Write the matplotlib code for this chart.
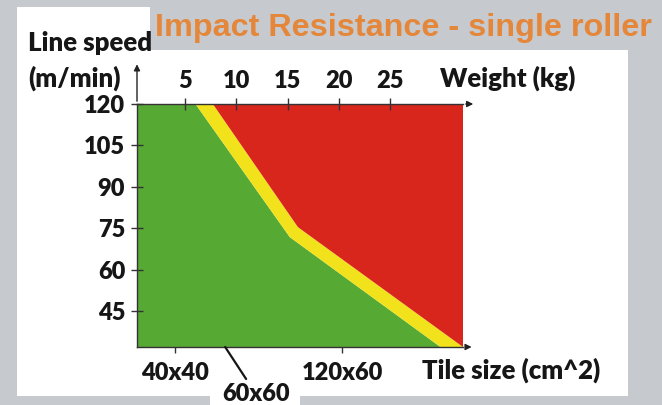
import matplotlib
matplotlib.use('Agg')
from matplotlib import pyplot as plt
from matplotlib.patches import Rectangle

# speed axis (m/min) and weight axis (kg)
speed_ticks = [45, 60, 75, 90, 105, 120]
weight_ticks = [5, 10, 15, 20, 25]
tile_labels = ['40x40', '120x60']
tile_pos = [4.0, 20.3]          # tile size placed on the weight scale
tile_note = '60x60'
tile_note_pos = 8.9

# zone borders (weight, speed)
low_x = [6.0, 15.2, 29.9]
low_y = [120, 71.8, 32]
high_x = [7.7, 16.0, 32.1]
high_y = [120, 75.4, 32]

x_min, x_max = 0.3, 32.1
y_min, y_max = 32, 120

W, H = 662, 405
bg = '#c6c9cd'
txt = '#161616'
green = '#56a933'
yellow = '#f1e21b'
red = '#d8261d'
orange = '#e5873a'

plt.rcParams['font.family'] = ['Lato', 'DejaVu Sans']
plt.rcParams['font.weight'] = 'heavy'

fig = plt.figure(figsize=(W / 100, H / 100), dpi=100, facecolor=bg)


def box(x0, y0, x1, y1):
    # pixel box -> figure fraction rectangle
    fig.patches.append(Rectangle((x0 / W, 1 - y1 / H), (x1 - x0) / W, (y1 - y0) / H,
                                 transform=fig.transFigure, facecolor='white',
                                 edgecolor='none', zorder=-5))


box(17, 7, 150, 51)
box(17, 50, 628, 396)
box(210, 395, 300, 405)

ax = fig.add_axes([137 / W, 1 - 347 / H, 326 / W, 243 / H])
ax.set_zorder(3)
ax.set_xlim(x_min, x_max)
ax.set_ylim(y_min, y_max)
ax.set_facecolor('none')

ax.fill([x_min, x_min] + low_x + [x_min], [y_min, y_max] + low_y + [y_min], color=green, lw=0)
ax.fill(low_x + high_x[::-1], low_y + high_y[::-1], color=yellow, lw=0)
ax.fill(high_x + [x_max, x_max], high_y + [y_min, y_max], color=red, lw=0)

ax.spines['right'].set_visible(False)
for s in ['left', 'top', 'bottom']:
    ax.spines[s].set_color('#333333')
    ax.spines[s].set_linewidth(1.0)

ax.set_yticks(speed_ticks)
ax.set_yticklabels([str(v) for v in speed_ticks], fontsize=17, color=txt)
ax.xaxis.set_ticks_position('top')
ax.set_xticks(weight_ticks)
ax.set_xticklabels([str(v) for v in weight_ticks], fontsize=17, color=txt)
ax.tick_params(axis='both', direction='inout', length=9, width=1, color='#333333', pad=4)

bot = ax.secondary_xaxis('bottom')
bot.set_xticks(tile_pos)
bot.set_xticklabels(tile_labels, fontsize=17, color=txt)
bot.tick_params(direction='inout', length=9, width=1, color='#333333', pad=6)
bot.spines['bottom'].set_visible(False)

ax.annotate(tile_note, xy=(tile_note_pos, y_min), xytext=(11.9, 15.0),
            xycoords='data', textcoords='data', ha='center', va='center',
            fontsize=17, color=txt, annotation_clip=False,
            arrowprops=dict(arrowstyle='-', color=txt, lw=1.6, shrinkA=1, shrinkB=0))

arrow = dict(arrowstyle='-|>', color='#222222', lw=1.0, mutation_scale=9)
ax.annotate('', xy=(0, 1.175), xytext=(0, 1), xycoords='axes fraction', arrowprops=arrow)
ax.annotate('', xy=(1.04, 1), xytext=(1, 1), xycoords='axes fraction', arrowprops=arrow)
ax.annotate('', xy=(1.035, 0), xytext=(1, 0), xycoords='axes fraction', arrowprops=arrow)

fig.text(28 / W, 1 - 43 / H, 'Line speed', fontsize=18.5, color=txt, ha='left', va='center')
fig.text(28 / W, 1 - 78 / H, '(m/min)', fontsize=18.5, color=txt, ha='left', va='center')
fig.text(440 / W, 1 - 78 / H, 'Weight (kg)', fontsize=18.5, color=txt, ha='left', va='center')
fig.text(422 / W, 1 - 370 / H, 'Tile size (cm^2)', fontsize=18.5, color=txt, ha='left', va='center')
fig.text(155 / W, 1 - 28 / H, 'Impact Resistance - single roller', fontsize=23.3,
         color=orange, ha='left', va='center', weight='bold',
         family=['Liberation Sans', 'DejaVu Sans'])

fig.savefig('out.png', dpi=100, facecolor=bg)
